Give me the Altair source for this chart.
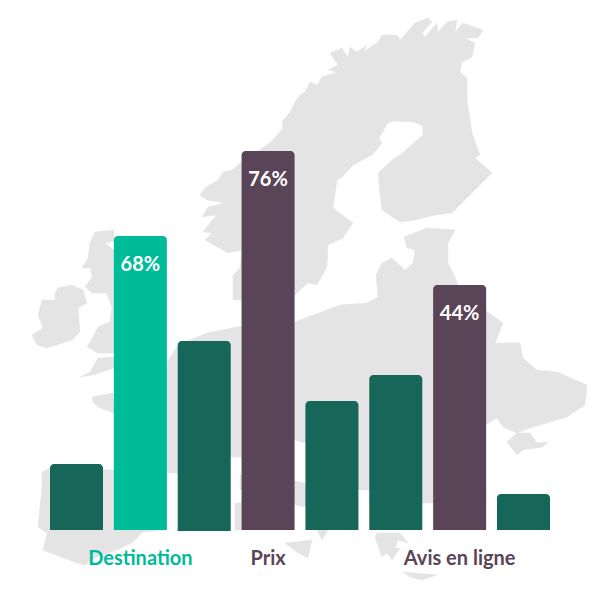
import altair as alt

# Bars: categories, heights on the picture's axis, baseline offset, colour group
cats = ["a", "b", "c", "d", "e", "f", "g", "h"]
values = [13.2, 58.8, 37.8, 75.8, 25.8, 31.0, 49.0, 7.2]
bases = [0, 0, -0.2, 0, 0, 0, 0, 0]
colors = ["#17665a", "#00bb98", "#17665a", "#5a4558", "#17665a", "#17665a", "#5a4558", "#17665a"]

# Percent labels
pct_cats = ["b", "d", "g"]
pct_vals = [58.8, 75.8, 49.0]
pct_text = ["68%", "76%", "44%"]

# Category captions
cap_cats = ["b", "d", "g"]
cap_text = ["Destination", "Prix", "Avis en ligne"]
cap_colors = ["#00bb98", "#5a4558", "#5a4558"]

# Backdrop map outlines
scandinavia = [(228,253),(205,240),(212,233),(203,232),(210,223),(217,215),(202,217),(208,207),(225,203),(207,200),(200,195),(205,188),(218,180),(223,172),(232,170),(242,162),(267,145),(273,140),(283,128),(282,122),(290,112),(295,102),(300,95),(305,92),(310,82),(317,85),(322,77),(337,72),(328,70),(338,65),(330,53),(342,48),(348,57),(350,47),(357,52),(367,45),(363,52),(378,42),(382,35),(397,35),(400,40),(415,23),(428,18),(432,22),(422,33),(425,37),(437,23),(438,32),(447,22),(457,20),(455,32),(463,23),(483,30),(478,38),(465,38),(475,43),(472,57),(462,62),(460,72),(467,78),(467,100),(472,133),(480,155),(475,158),(492,173),(452,213),(435,215),(415,220),(400,222),(382,210),(380,193),(378,173),(392,160),(400,155),(423,135),(422,125),(413,122),(395,121),(388,123),(379,138),(382,143),(372,155),(353,165),(342,177),(337,180),(333,208),(353,223),(343,238),(328,245),(327,267),(317,285),(308,283),(300,290),(290,300),(233,300),(233,275),(240,268),(242,250)]
continent = [(404,237),(427,228),(455,230),(448,243),(448,263),(455,277),(458,285),(486,300),(485,310),(503,323),(495,343),(520,343),(523,358),(537,370),(557,372),(587,385),(585,405),(567,417),(530,428),(517,433),(530,433),(537,443),(548,442),(543,447),(523,450),(517,455),(507,442),(517,433),(503,427),(497,418),(485,425),(486,503),(433,503),(369,503),(369,490),(358,490),(358,440),(305,443),(295,440),(242,457),(231,457),(178,473),(167,473),(167,530),(143,532),(133,542),(117,550),(97,557),(85,565),(77,563),(43,550),(47,533),(38,527),(42,487),(42,472),(50,468),(114,470),(114,400),(125,380),(167,362),(178,345),(207,333),(242,326),(296,322),(300,320),(340,305),(367,303),(378,297),(376,275),(382,263),(392,258),(405,270),(413,263),(415,250),(407,248)]
scotland = [(95,232),(114,230),(114,241),(105,243),(114,250),(114,323),(110,320),(112,308),(107,293),(92,293),(85,287),(92,277),(90,268),(82,268),(88,258),(90,243)]
wales = [(114,320),(98,327),(93,337),(87,347),(98,353),(114,353)]
cornwall = [(114,357),(98,358),(90,372),(80,377),(93,375),(114,368)]
ireland = [(58,288),(72,285),(83,290),(87,303),(78,308),(80,332),(72,340),(47,348),(37,345),(32,335),(43,328),(38,315),(42,300),(55,300),(55,293)]
brittany = [(92,397),(113,393),(114,413),(98,407),(93,402)]
italy = [(290,480),(305,483),(320,500),(305,507),(295,505)]
toe = [(317,530),(328,530),(322,540)]
sardinia = [(235,503),(242,503),(242,530),(235,530)]
corsica = [(240,475),(242,475),(242,490),(240,490)]
sicily = [(285,543),(312,540),(308,558),(298,553)]
greece = [(375,537),(377,533),(400,533),(408,543),(398,540),(395,548),(400,548),(392,560),(387,553),(382,557)]
crete = [(403,572),(437,575),(422,580),(410,577)]
shapes = [scandinavia, continent, scotland, wales, cornwall, ireland, brittany, italy, toe, sardinia, corsica, sicily, greece, crete]


def feature(points):
    ring = [list(p) for p in points] + [list(points[0])]
    return {"type": "Feature", "properties": {}, "geometry": {"type": "Polygon", "coordinates": [ring]}}


geo = alt.Data(values=[feature(p) for p in shapes])
backdrop = alt.Chart(geo).mark_geoshape(fill="#e4e4e4", stroke="#e4e4e4", strokeWidth=0.5).project(
    type="identity", scale=1, translate=[-8, -8]
)

x_scale = alt.Scale(domain=cats, range=[42, 542], paddingInner=0.17, paddingOuter=0)
y_scale = alt.Scale(domain=[-12.4, 104.4], nice=False, zero=False)

bar_rows = [
    {"cat": c, "value": v, "base": b, "color": k}
    for c, v, b, k in zip(cats, values, bases, colors)
]
bars = alt.Chart(alt.Data(values=bar_rows)).mark_bar(cornerRadiusTopLeft=4, cornerRadiusTopRight=4).encode(
    x=alt.X("cat:N", scale=x_scale, axis=None),
    y=alt.Y("value:Q", scale=y_scale, axis=None),
    y2="base:Q",
    color=alt.Color("color:N", scale=None),
)

pct_rows = [{"cat": c, "value": v, "label": t} for c, v, t in zip(pct_cats, pct_vals, pct_text)]
pct = alt.Chart(alt.Data(values=pct_rows)).mark_text(
    font="Lato", fontSize=20, fontWeight="bold", color="white", baseline="middle", dy=29
).encode(
    x=alt.X("cat:N", scale=x_scale, axis=None),
    y=alt.Y("value:Q", scale=y_scale, axis=None),
    text="label:N",
)

cap_rows = [{"cat": c, "label": t, "color": k} for c, t, k in zip(cap_cats, cap_text, cap_colors)]
caps = alt.Chart(alt.Data(values=cap_rows)).mark_text(
    font="Lato", fontSize=20, fontWeight="bold", baseline="middle"
).encode(
    x=alt.X("cat:N", scale=x_scale, axis=None),
    y=alt.value(551),
    text="label:N",
    color=alt.Color("color:N", scale=None),
)

chart = alt.layer(backdrop, bars, pct, caps).properties(
    width=584, height=584, padding=0, autosize=alt.AutoSizeParams(type="none"), background="white"
).configure_view(stroke=None)

chart.save("out.html", embed_options={"renderer": "svg", "actions": False})
